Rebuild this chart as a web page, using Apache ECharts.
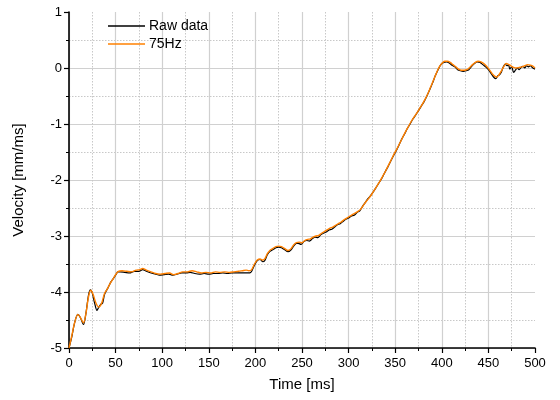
<!DOCTYPE html>
<html><head><meta charset="utf-8">
<script src="https://cdn.jsdelivr.net/npm/echarts@6/dist/echarts.min.js"></script>
<style>html,body{margin:0;padding:0;background:#fff}#c{width:560px;height:400px}</style>
</head><body><div id="c"></div>
<script>
const rawTime = [0,3,6,9.5,12,15.5,18,21,23,25,27.5,30,32,34,36,38,40,42,45,47.5,50,52.5,55,60,65,70,75,79,83,88,93,97,102,107,111.5,116,121,126,130,135,140,145,150,155,160,165,170,175,180,185,190,194,196,199,202,205,208,210,213,216,219,222,225,228,231,235,238,241,244,246,249,252,255,258,261,264,267,270,273,276,279,282,285,288,291,294,297,300,303,306,309,312,315,318,321,324,327,330,333,336,339,342,345,348,351,354,357,360,363,366,369,372,375,378,381,384,387,390,393,396,399,402,405,408,411,414,417,420,423,426,429,432,435,438,441,444,447,450,453,456,458,460,462,464,466,468,470,471.5,473,475,477,479,481,483,485,487,489,491,493,495,497,500];
const rawVel = [-5.00,-4.80,-4.55,-4.40,-4.45,-4.58,-4.40,-4.05,-3.96,-4.02,-4.20,-4.33,-4.27,-4.22,-4.20,-4.05,-3.98,-3.92,-3.82,-3.76,-3.70,-3.64,-3.64,-3.65,-3.66,-3.63,-3.63,-3.60,-3.63,-3.66,-3.68,-3.70,-3.69,-3.68,-3.70,-3.68,-3.66,-3.66,-3.65,-3.67,-3.68,-3.67,-3.68,-3.67,-3.67,-3.66,-3.67,-3.66,-3.66,-3.66,-3.66,-3.66,-3.63,-3.52,-3.44,-3.42,-3.46,-3.44,-3.33,-3.27,-3.24,-3.21,-3.20,-3.21,-3.24,-3.28,-3.25,-3.18,-3.13,-3.13,-3.15,-3.10,-3.08,-3.09,-3.05,-3.02,-3.03,-2.98,-2.95,-2.93,-2.89,-2.88,-2.84,-2.80,-2.78,-2.74,-2.70,-2.68,-2.64,-2.63,-2.58,-2.55,-2.47,-2.40,-2.33,-2.27,-2.20,-2.12,-2.04,-1.96,-1.86,-1.77,-1.67,-1.57,-1.48,-1.38,-1.27,-1.18,-1.08,-1.00,-0.91,-0.84,-0.76,-0.68,-0.60,-0.50,-0.39,-0.27,-0.14,-0.03,0.06,0.10,0.11,0.09,0.05,0.02,-0.03,-0.05,-0.06,-0.05,-0.03,0.03,0.08,0.11,0.10,0.06,0.02,-0.03,-0.10,-0.17,-0.19,-0.14,-0.12,-0.07,0.02,0.07,0.04,0.06,-0.02,0.03,-0.08,-0.04,0.00,-0.03,0.01,0.03,0.00,0.04,0.02,0.04,0.01,-0.02];
const filtTime = [0,3,6,9.5,12,15.5,18,21,23.5,26,29,32,35,38,41,44,47.5,50,53,57,62,67,72,76,79,83,88,93,98,103,108,112,117,122,127,132,137,142,147,152,157,162,167,172,177,182,186,190,193,196,199,202,205,208,210,213,216,219,222,225,228,231,235,238,241,244,247,250,253,256,259,262,265,268,271,274,277,280,283,286,289,292,295,298,301,304,307,310,313,316,319,322,325,328,331,334,337,340,343,346,349,352,355,358,361,364,367,370,373,376,379,382,385,388,391,394,397,400,403,406,409,412,415,418,421,424,427,430,433,436,439,442,445,448,451,454,457,459,461,464,467,469,471,474,477,480,483,486,489,492,495,498,500];
const filtVel = [-5.00,-4.78,-4.55,-4.40,-4.45,-4.55,-4.40,-4.08,-3.97,-4.05,-4.20,-4.27,-4.20,-4.03,-3.95,-3.85,-3.76,-3.69,-3.63,-3.62,-3.63,-3.64,-3.61,-3.60,-3.58,-3.61,-3.64,-3.67,-3.68,-3.67,-3.66,-3.69,-3.67,-3.64,-3.64,-3.62,-3.64,-3.66,-3.65,-3.66,-3.64,-3.65,-3.64,-3.65,-3.64,-3.63,-3.62,-3.61,-3.62,-3.60,-3.50,-3.43,-3.41,-3.43,-3.41,-3.31,-3.25,-3.22,-3.19,-3.18,-3.19,-3.22,-3.26,-3.23,-3.16,-3.12,-3.11,-3.12,-3.08,-3.06,-3.05,-3.02,-3.00,-2.99,-2.95,-2.92,-2.89,-2.86,-2.84,-2.81,-2.78,-2.75,-2.71,-2.68,-2.65,-2.62,-2.59,-2.56,-2.52,-2.45,-2.38,-2.32,-2.25,-2.17,-2.09,-2.01,-1.92,-1.83,-1.73,-1.63,-1.53,-1.44,-1.34,-1.24,-1.14,-1.05,-0.96,-0.88,-0.81,-0.73,-0.65,-0.56,-0.46,-0.34,-0.22,-0.10,0.01,0.08,0.12,0.12,0.10,0.06,0.02,-0.02,-0.04,-0.04,-0.03,0.01,0.06,0.10,0.12,0.11,0.08,0.03,-0.03,-0.10,-0.15,-0.16,-0.13,-0.05,0.04,0.08,0.07,0.04,0.01,0.00,0.01,0.02,0.04,0.06,0.05,0.03,0.00];
const seriesNames = ['Raw data', '75Hz'];
const xTicks = [0,50,100,150,200,250,300,350,400,450,500];
const yTicks = [-5,-4,-3,-2,-1,0,1];

const zip = (a, b) => a.map((t, i) => [t, b[i]]);
const font = "'Liberation Sans', Arial, sans-serif";
const chart = echarts.init(document.getElementById('c'), null, {renderer: 'canvas'});
const axisCommon = {
  axisLine: {onZero: false, lineStyle: {color: '#000', width: 1.6}},
  axisTick: {show: true, inside: false, length: 5, lineStyle: {color: '#000', width: 1.2}},
  minorTick: {show: true, splitNumber: 2, length: 3, lineStyle: {color: '#000', width: 1}},
  splitLine: {show: true, showMaxLine: false, lineStyle: {color: '#d0d0d0', width: 1.2}},
  minorSplitLine: {show: true, lineStyle: {color: '#c8c8c8', width: 1, type: [1.5, 1.5]}},
  axisLabel: {color: '#000', fontSize: 13, fontFamily: font},
  nameTextStyle: {color: '#000', fontSize: 15, fontFamily: font}
};
chart.setOption({
  animation: false,
  backgroundColor: '#fff',
  grid: {left: 69, right: 25, top: 12, bottom: 52, containLabel: false},
  legend: {
    data: seriesNames,
    orient: 'vertical', left: 103, top: 14, itemGap: 4,
    icon: 'rect', itemWidth: 37, itemHeight: 1.5,
    textStyle: {color: '#000', fontSize: 14, fontFamily: font, padding: [0, 0, 0, -1]}
  },
  xAxis: Object.assign({}, axisCommon, {
    type: 'value', min: 0, max: 500, interval: 50,
    name: 'Time [ms]', nameLocation: 'middle', nameGap: 29,
    axisLabel: Object.assign({}, axisCommon.axisLabel, {margin: 9,
      customValues: xTicks})
  }),
  yAxis: Object.assign({}, axisCommon, {
    type: 'value', min: -5, max: 1, interval: 1,
    name: 'Velocity [mm/ms]', nameLocation: 'middle', nameGap: 43, nameRotate: 90,
    axisLabel: Object.assign({}, axisCommon.axisLabel, {margin: 7,
      customValues: yTicks})
  }),
  series: [
    {name: seriesNames[0], type: 'line', data: zip(rawTime, rawVel), showSymbol: false, smooth: 0.3,
     lineStyle: {color: '#000', width: 1.2}, itemStyle: {color: '#000'}},
    {name: seriesNames[1], type: 'line', data: zip(filtTime, filtVel), showSymbol: false, smooth: 0.3,
     lineStyle: {color: '#ff8000', width: 1.4}, itemStyle: {color: '#ff8000'}}
  ]
});
</script></body></html>
